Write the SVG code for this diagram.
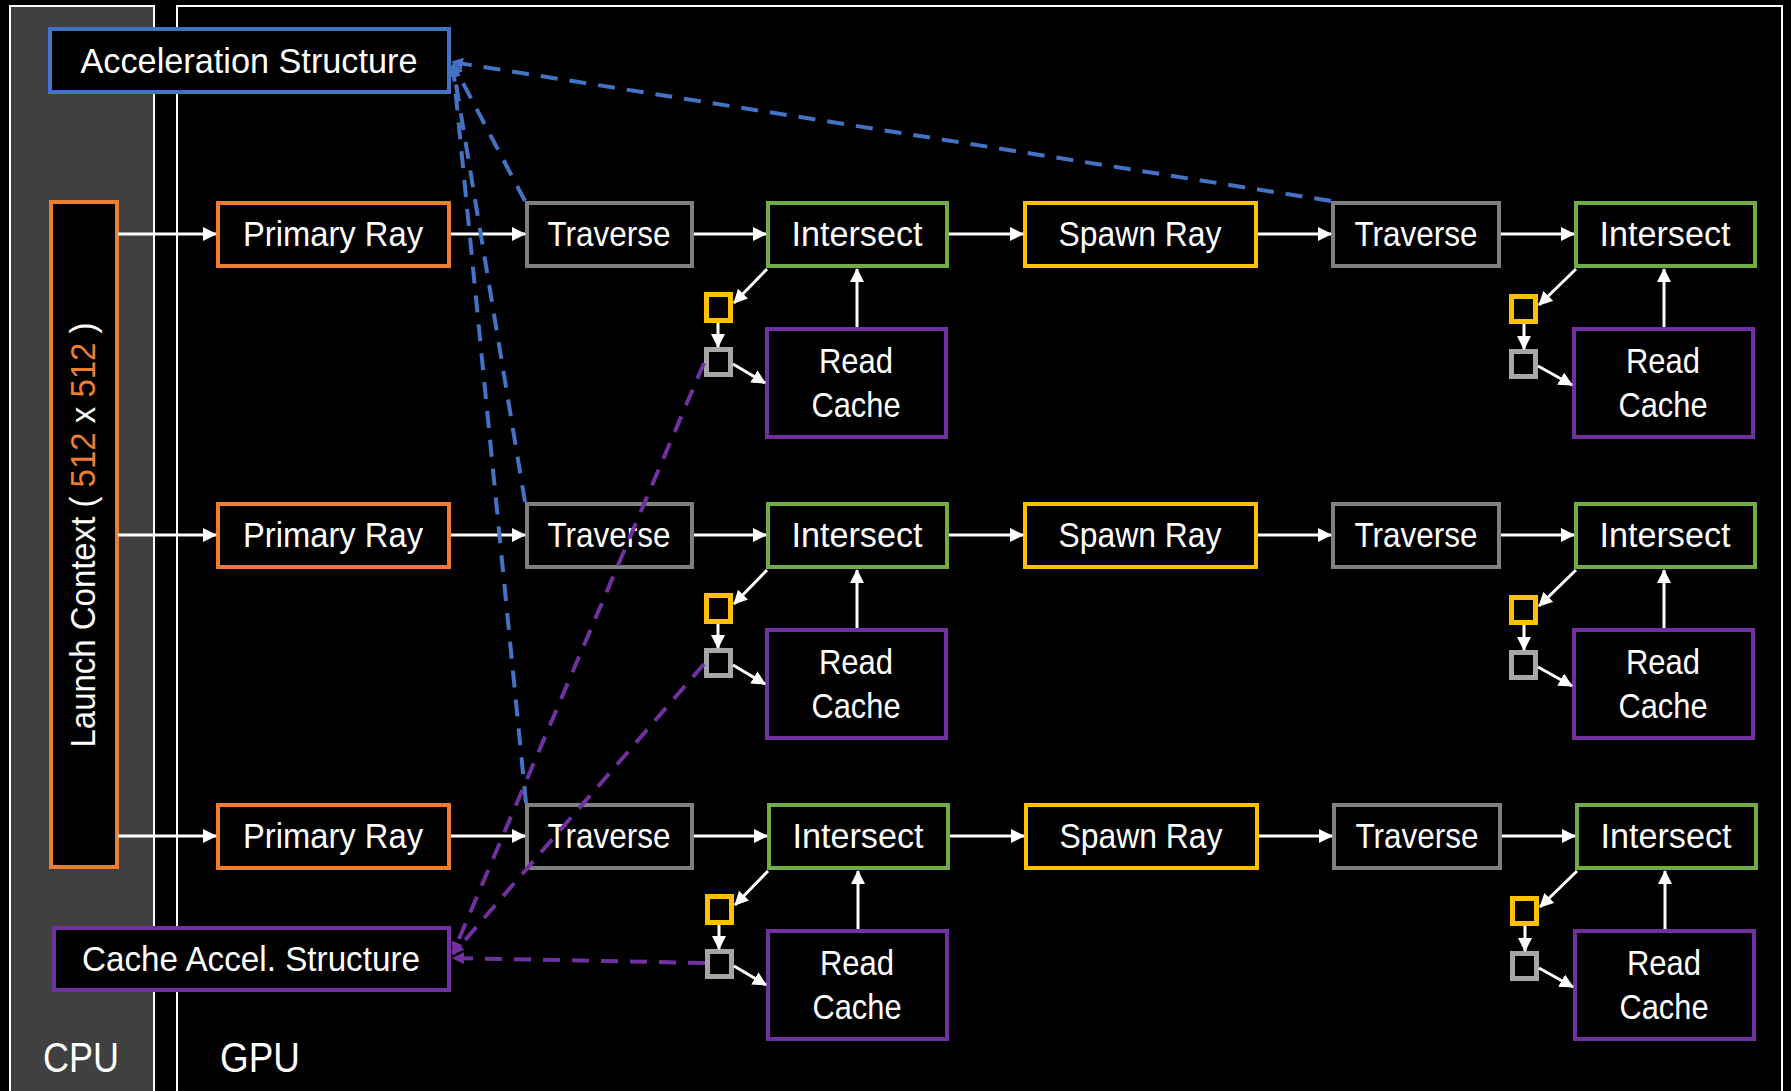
<svg xmlns="http://www.w3.org/2000/svg" width="1791" height="1091" viewBox="0 0 1791 1091">
<defs>
<style>
.lbl{font-family:"Liberation Sans",Arial,sans-serif;font-size:35px;fill:#fff;text-anchor:middle}
.big{font-family:"Liberation Sans",Arial,sans-serif;font-size:43px;fill:#fff}
.box{fill:#000;stroke-width:4}
.sq{fill:#000;stroke-width:5}
.b{stroke:#4472C4}.o{stroke:#ED7D31}.g{stroke:#7F7F7F}.gr{stroke:#70AD47}.y{stroke:#FFC000}.p{stroke:#7030A0}.lg{stroke:#A6A6A6}
.w{stroke:#fff;stroke-width:3;fill:none;marker-end:url(#aw)}
.bd{stroke:#4472C4;stroke-width:4;fill:none;stroke-dasharray:17 12;marker-end:url(#ab)}
.pd{stroke:#7030A0;stroke-width:4;fill:none;stroke-dasharray:17 12;marker-end:url(#ap)}
</style>
<marker id="aw" markerUnits="userSpaceOnUse" markerWidth="14" markerHeight="14" viewBox="0 0 14 14" refX="13" refY="7" orient="auto"><path d="M0,0 L14,7 L0,14 z" fill="#fff"/></marker>
<marker id="ab" markerUnits="userSpaceOnUse" markerWidth="12" markerHeight="12" viewBox="0 0 12 12" refX="11" refY="6" orient="auto"><path d="M0,0 L12,6 L0,12 z" fill="#4472C4"/></marker>
<marker id="ap" markerUnits="userSpaceOnUse" markerWidth="12" markerHeight="12" viewBox="0 0 12 12" refX="11" refY="6" orient="auto"><path d="M0,0 L12,6 L0,12 z" fill="#7030A0"/></marker>
</defs>
<rect x="0" y="0" width="1791" height="1091" fill="#000"/>
<g id="cpu-panel">
<rect x="10" y="6" width="144" height="1100" fill="#404040" stroke="#fff" stroke-width="2"/>
<text class="big" x="81" y="1072" text-anchor="middle" textLength="76" lengthAdjust="spacingAndGlyphs">CPU</text>
</g>
<g id="gpu-panel">
<rect x="177" y="6" width="1605" height="1100" fill="#000" stroke="#fff" stroke-width="2"/>
<text class="big" x="260" y="1072" text-anchor="middle" textLength="80" lengthAdjust="spacingAndGlyphs">GPU</text>
</g>

<g id="accel">
<rect class="box b" x="50" y="29" width="399" height="63"/>
<text class="lbl" x="249" y="73" textLength="337" lengthAdjust="spacingAndGlyphs">Acceleration Structure</text>
</g>
<g id="launch">
<rect class="box o" x="51" y="202" width="66" height="665"/>
<text class="lbl" transform="translate(95,535) rotate(-90)" x="0" y="0" textLength="425" lengthAdjust="spacingAndGlyphs">Launch Context ( <tspan fill="#ED7D31">512</tspan> x <tspan fill="#ED7D31">512</tspan> )</text>
</g>
<g id="cache-accel">
<rect class="box p" x="54" y="928" width="395" height="62"/>
<text class="lbl" x="251" y="971" textLength="338" lengthAdjust="spacingAndGlyphs">Cache Accel. Structure</text>
</g>

<!-- Row 1 -->
<g id="primary1"><rect class="box o" x="218" y="203" width="231" height="63"/><text class="lbl" x="333" y="246" textLength="180" lengthAdjust="spacingAndGlyphs">Primary Ray</text></g>
<g id="traverse1a"><rect class="box g" x="527" y="203" width="165" height="63"/><text class="lbl" x="609" y="246" textLength="123" lengthAdjust="spacingAndGlyphs">Traverse</text></g>
<g id="intersect1a"><rect class="box gr" x="768" y="203" width="179" height="63"/><text class="lbl" x="857" y="246" textLength="131" lengthAdjust="spacingAndGlyphs">Intersect</text></g>
<g id="readcache1a"><rect class="box p" x="767" y="329" width="179" height="108"/><text class="lbl" x="856" y="373" textLength="74" lengthAdjust="spacingAndGlyphs">Read</text><text class="lbl" x="856" y="417" textLength="89" lengthAdjust="spacingAndGlyphs">Cache</text></g>
<g id="ysq1a"><rect class="sq y" x="706.5" y="294.5" width="24" height="26"/></g>
<g id="gsq1a"><rect class="sq lg" x="706.5" y="349.5" width="24" height="25"/></g>
<g id="spawn1"><rect class="box y" x="1025" y="203" width="231" height="63"/><text class="lbl" x="1140" y="246" textLength="163" lengthAdjust="spacingAndGlyphs">Spawn Ray</text></g>
<g id="traverse1b"><rect class="box g" x="1333" y="203" width="166" height="63"/><text class="lbl" x="1416" y="246" textLength="123" lengthAdjust="spacingAndGlyphs">Traverse</text></g>
<g id="intersect1b"><rect class="box gr" x="1576" y="203" width="179" height="63"/><text class="lbl" x="1665" y="246" textLength="131" lengthAdjust="spacingAndGlyphs">Intersect</text></g>
<g id="readcache1b"><rect class="box p" x="1574" y="329" width="179" height="108"/><text class="lbl" x="1663" y="373" textLength="74" lengthAdjust="spacingAndGlyphs">Read</text><text class="lbl" x="1663" y="417" textLength="89" lengthAdjust="spacingAndGlyphs">Cache</text></g>
<g id="ysq1b"><rect class="sq y" x="1511.5" y="296.5" width="24" height="25"/></g>
<g id="gsq1b"><rect class="sq lg" x="1511.5" y="351.5" width="24" height="25"/></g>

<!-- Row 2 -->
<g id="primary2"><rect class="box o" x="218" y="504" width="231" height="63"/><text class="lbl" x="333" y="547" textLength="180" lengthAdjust="spacingAndGlyphs">Primary Ray</text></g>
<g id="traverse2a"><rect class="box g" x="527" y="504" width="165" height="63"/><text class="lbl" x="609" y="547" textLength="123" lengthAdjust="spacingAndGlyphs">Traverse</text></g>
<g id="intersect2a"><rect class="box gr" x="768" y="504" width="179" height="63"/><text class="lbl" x="857" y="547" textLength="131" lengthAdjust="spacingAndGlyphs">Intersect</text></g>
<g id="readcache2a"><rect class="box p" x="767" y="630" width="179" height="108"/><text class="lbl" x="856" y="674" textLength="74" lengthAdjust="spacingAndGlyphs">Read</text><text class="lbl" x="856" y="718" textLength="89" lengthAdjust="spacingAndGlyphs">Cache</text></g>
<g id="ysq2a"><rect class="sq y" x="706.5" y="595.5" width="24" height="26"/></g>
<g id="gsq2a"><rect class="sq lg" x="706.5" y="650.5" width="24" height="25"/></g>
<g id="spawn2"><rect class="box y" x="1025" y="504" width="231" height="63"/><text class="lbl" x="1140" y="547" textLength="163" lengthAdjust="spacingAndGlyphs">Spawn Ray</text></g>
<g id="traverse2b"><rect class="box g" x="1333" y="504" width="166" height="63"/><text class="lbl" x="1416" y="547" textLength="123" lengthAdjust="spacingAndGlyphs">Traverse</text></g>
<g id="intersect2b"><rect class="box gr" x="1576" y="504" width="179" height="63"/><text class="lbl" x="1665" y="547" textLength="131" lengthAdjust="spacingAndGlyphs">Intersect</text></g>
<g id="readcache2b"><rect class="box p" x="1574" y="630" width="179" height="108"/><text class="lbl" x="1663" y="674" textLength="74" lengthAdjust="spacingAndGlyphs">Read</text><text class="lbl" x="1663" y="718" textLength="89" lengthAdjust="spacingAndGlyphs">Cache</text></g>
<g id="ysq2b"><rect class="sq y" x="1511.5" y="597.5" width="24" height="25"/></g>
<g id="gsq2b"><rect class="sq lg" x="1511.5" y="652.5" width="24" height="25"/></g>

<!-- Row 3 -->
<g id="primary3"><rect class="box o" x="218" y="805" width="231" height="63"/><text class="lbl" x="333" y="848" textLength="180" lengthAdjust="spacingAndGlyphs">Primary Ray</text></g>
<g id="traverse3a"><rect class="box g" x="527" y="805" width="165" height="63"/><text class="lbl" x="609" y="848" textLength="123" lengthAdjust="spacingAndGlyphs">Traverse</text></g>
<g id="intersect3a"><rect class="box gr" x="769" y="805" width="179" height="63"/><text class="lbl" x="858" y="848" textLength="131" lengthAdjust="spacingAndGlyphs">Intersect</text></g>
<g id="readcache3a"><rect class="box p" x="768" y="931" width="179" height="108"/><text class="lbl" x="857" y="975" textLength="74" lengthAdjust="spacingAndGlyphs">Read</text><text class="lbl" x="857" y="1019" textLength="89" lengthAdjust="spacingAndGlyphs">Cache</text></g>
<g id="ysq3a"><rect class="sq y" x="707.5" y="896.5" width="24" height="26"/></g>
<g id="gsq3a"><rect class="sq lg" x="707.5" y="951.5" width="24" height="25"/></g>
<g id="spawn3"><rect class="box y" x="1026" y="805" width="231" height="63"/><text class="lbl" x="1141" y="848" textLength="163" lengthAdjust="spacingAndGlyphs">Spawn Ray</text></g>
<g id="traverse3b"><rect class="box g" x="1334" y="805" width="166" height="63"/><text class="lbl" x="1417" y="848" textLength="123" lengthAdjust="spacingAndGlyphs">Traverse</text></g>
<g id="intersect3b"><rect class="box gr" x="1577" y="805" width="179" height="63"/><text class="lbl" x="1666" y="848" textLength="131" lengthAdjust="spacingAndGlyphs">Intersect</text></g>
<g id="readcache3b"><rect class="box p" x="1575" y="931" width="179" height="108"/><text class="lbl" x="1664" y="975" textLength="74" lengthAdjust="spacingAndGlyphs">Read</text><text class="lbl" x="1664" y="1019" textLength="89" lengthAdjust="spacingAndGlyphs">Cache</text></g>
<g id="ysq3b"><rect class="sq y" x="1512.5" y="898.5" width="24" height="25"/></g>
<g id="gsq3b"><rect class="sq lg" x="1512.5" y="953.5" width="24" height="25"/></g>

<g id="connectors">
<!-- row 1 -->
<line class="w" x1="118" y1="234" x2="216" y2="234"/>
<line class="w" x1="451" y1="234" x2="525" y2="234"/>
<line class="w" x1="694" y1="234" x2="766" y2="234"/>
<line class="w" x1="949" y1="234" x2="1023" y2="234"/>
<line class="w" x1="1258" y1="234" x2="1331" y2="234"/>
<line class="w" x1="1501" y1="234" x2="1574" y2="234"/>
<line class="w" x1="767" y1="269" x2="734" y2="303"/>
<line class="w" x1="718" y1="323" x2="718" y2="347"/>
<line class="w" x1="733" y1="364" x2="765" y2="383"/>
<line class="w" x1="857" y1="327" x2="857" y2="269"/>
<line class="w" x1="1576" y1="269" x2="1539" y2="305"/>
<line class="w" x1="1524" y1="324" x2="1524" y2="349"/>
<line class="w" x1="1538" y1="366" x2="1572" y2="385"/>
<line class="w" x1="1664" y1="327" x2="1664" y2="269"/>
<!-- row 2 -->
<line class="w" x1="118" y1="535" x2="216" y2="535"/>
<line class="w" x1="451" y1="535" x2="525" y2="535"/>
<line class="w" x1="694" y1="535" x2="766" y2="535"/>
<line class="w" x1="949" y1="535" x2="1023" y2="535"/>
<line class="w" x1="1258" y1="535" x2="1331" y2="535"/>
<line class="w" x1="1501" y1="535" x2="1574" y2="535"/>
<line class="w" x1="767" y1="570" x2="734" y2="604"/>
<line class="w" x1="718" y1="624" x2="718" y2="648"/>
<line class="w" x1="733" y1="665" x2="765" y2="684"/>
<line class="w" x1="857" y1="628" x2="857" y2="570"/>
<line class="w" x1="1576" y1="570" x2="1539" y2="606"/>
<line class="w" x1="1524" y1="625" x2="1524" y2="650"/>
<line class="w" x1="1538" y1="667" x2="1572" y2="686"/>
<line class="w" x1="1664" y1="628" x2="1664" y2="570"/>
<!-- row 3 -->
<line class="w" x1="118" y1="836" x2="216" y2="836"/>
<line class="w" x1="451" y1="836" x2="525" y2="836"/>
<line class="w" x1="694" y1="836" x2="767" y2="836"/>
<line class="w" x1="950" y1="836" x2="1024" y2="836"/>
<line class="w" x1="1259" y1="836" x2="1332" y2="836"/>
<line class="w" x1="1502" y1="836" x2="1575" y2="836"/>
<line class="w" x1="768" y1="871" x2="735" y2="905"/>
<line class="w" x1="719" y1="925" x2="719" y2="949"/>
<line class="w" x1="734" y1="966" x2="766" y2="985"/>
<line class="w" x1="858" y1="929" x2="858" y2="871"/>
<line class="w" x1="1577" y1="871" x2="1540" y2="907"/>
<line class="w" x1="1525" y1="926" x2="1525" y2="951"/>
<line class="w" x1="1539" y1="968" x2="1573" y2="987"/>
<line class="w" x1="1665" y1="929" x2="1665" y2="871"/>
<!-- blue dashed to Acceleration Structure -->
<line class="bd" x1="1331" y1="201" x2="452" y2="62"/>
<line class="bd" x1="525" y1="201" x2="453" y2="64"/>
<line class="bd" x1="525" y1="502" x2="453" y2="66"/>
<line class="bd" x1="526" y1="803" x2="453" y2="66"/>
<!-- purple dashed to Cache Accel. Structure -->
<line class="pd" x1="704" y1="363" x2="453" y2="953"/>
<line class="pd" x1="704" y1="664" x2="453" y2="954"/>
<line class="pd" x1="705" y1="963" x2="453" y2="958"/>
</g>
</svg>
